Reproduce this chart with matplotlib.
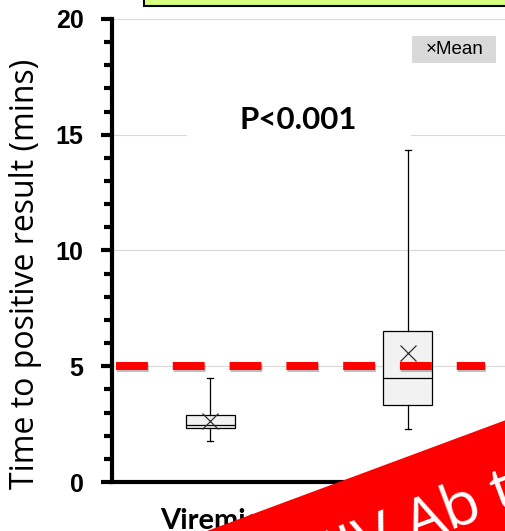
import matplotlib
matplotlib.use("Agg")
import matplotlib.pyplot as plt
import matplotlib.patheffects as pe
from matplotlib.patches import Polygon, Rectangle

# ---- data ----
categories = ["Viremic", ""]
whislo = [1.77, 2.29]
q1 = [2.33, 3.33]
med = [2.46, 4.49]
q3 = [2.89, 6.52]
whishi = [4.49, 14.34]
means = [2.63, 5.57]
cutoff = 5
y_ticks = [0, 5, 10, 15, 20]
p_text = "P<0.001"
banner_text = "HIV Ab test"
legend_text = "\u00d7Mean"

W, H = 506, 531
fig = plt.figure(figsize=(W / 100, H / 100), dpi=100)

def fx(px):
    return px / W

def fy(py):
    return 1 - py / H

ax = fig.add_axes([fx(112), fy(482), (506 - 112) / W, (482 - 19) / H])
ax.set_xlim(0.505, 2.495)
ax.set_ylim(0, 20)

stats = []
for i in range(len(categories)):
    stats.append(dict(whislo=whislo[i], q1=q1[i], med=med[i], q3=q3[i],
                      whishi=whishi[i], mean=means[i], fliers=[], label=categories[i]))

ax.bxp(stats, positions=[1, 2], widths=0.2475, patch_artist=True, showmeans=True,
       capwidths=0.035, manage_ticks=False,
       boxprops=dict(facecolor="#f2f2f2", edgecolor="black", linewidth=0.9),
       medianprops=dict(color="black", linewidth=0.9),
       whiskerprops=dict(color="black", linewidth=0.9),
       capprops=dict(color="black", linewidth=0.9),
       meanprops=dict(marker="x", markersize=11, markeredgecolor="#303030",
                      markeredgewidth=0.9, markerfacecolor="none"),
       zorder=3)

# grid
for v in y_ticks[1:]:
    ax.axhline(v, color="#d9d9d9", linewidth=0.8, zorder=0)

# cutoff line
ax.plot([0.525, 2.39], [cutoff, cutoff], color="#ff0000", linewidth=5.8,
        dashes=(3.95, 3.1), solid_capstyle="butt", dash_capstyle="butt", zorder=4,
        path_effects=[pe.SimpleLineShadow(offset=(0.8, -1.2), shadow_color="black", alpha=0.25),
                      pe.Normal()])

# axes styling
for s in ["top", "right"]:
    ax.spines[s].set_visible(False)
ax.spines["left"].set_linewidth(3)
ax.spines["bottom"].set_linewidth(3)
ax.set_yticks(y_ticks)
ax.set_yticks(range(0, 21), minor=True)
ax.tick_params(axis="y", which="major", length=8, width=3, pad=12.5)
ax.tick_params(axis="y", which="minor", length=6, width=3)
ax.set_yticklabels([str(v) for v in y_ticks], fontfamily="Liberation Sans",
                   fontweight="bold", fontsize=18)
ax.set_xticks([1])
ax.set_xticklabels([categories[0]], fontfamily="Lato", fontweight="bold", fontsize=21)
ax.tick_params(axis="x", length=0, pad=19)
ax.set_ylabel("Time to positive result (mins)", fontfamily="Open Sans", fontsize=23)
ax.yaxis.set_label_coords(-0.178, 0.449)

# P value with white background
ax.add_patch(Rectangle((0.884, 14.69), 2.015 - 0.884, 16.72 - 14.69, facecolor="white",
                       edgecolor="none", zorder=1))
ax.text(1.444, 15.62, p_text, ha="center", va="center", fontfamily="Lato",
        fontweight="bold", fontsize=22.5, zorder=5)

# legend
fig.patches.append(Rectangle((fx(412), fy(63)), (496 - 412) / W, (63 - 36) / H,
                             transform=fig.transFigure, facecolor="#d9d9d9",
                             edgecolor="none", zorder=5))
fig.text(fx(455), fy(50), legend_text, ha="center", va="center",
         fontfamily="Liberation Sans", fontsize=13.5, zorder=6)

# top yellow box
fig.patches.append(Rectangle((fx(144), fy(6)), (520 - 144) / W, 40 / H,
                             transform=fig.transFigure, facecolor="#d6ff80",
                             edgecolor="black", linewidth=1.5, zorder=5))

# red banner
pts = [(207, 531), (506, 420), (600, 385), (600, 600), (150, 600)]
fig.patches.append(Polygon([(fx(x), fy(y)) for x, y in pts], closed=True,
                           transform=fig.transFigure, facecolor="#ff0000",
                           edgecolor="none", zorder=10))
fig.text(fx(306), fy(584), banner_text, rotation=20.4, rotation_mode="anchor",
         ha="left", va="baseline", color="white", fontfamily="Open Sans",
         fontsize=44, zorder=11)

fig.savefig("out.png", dpi=100)
